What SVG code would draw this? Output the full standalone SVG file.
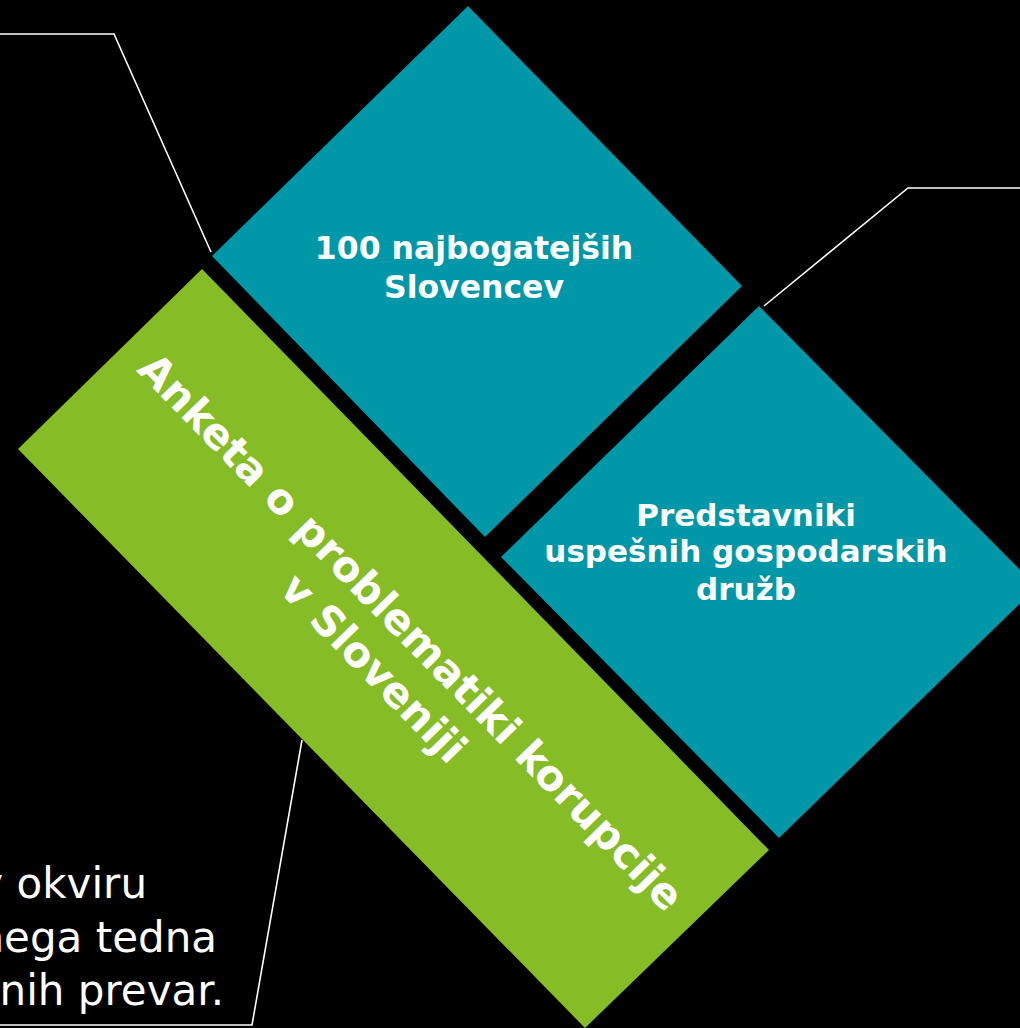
<svg xmlns="http://www.w3.org/2000/svg" width="1020" height="1028" viewBox="0 0 1020 1028">
<style>
.teal{fill:#0097A9}
.green{fill:#86BC25}
.lbl{fill:#fff;font-family:"DejaVu Sans",Verdana,sans-serif;font-weight:bold;text-anchor:middle}
.conn{fill:none;stroke:#fff;stroke-width:1.6}
.body{fill:#fff;font-family:"DejaVu Sans",Verdana,sans-serif;font-size:42px;text-anchor:end}
</style>
<rect x="0" y="0" width="1020" height="1028" fill="#000"/>
<g id="connectors">
<polyline class="conn" points="0,34 114,34 211,252"/>
<polyline class="conn" points="1020,188 908,188 764,306"/>
<polyline class="conn" points="302,740 252,1025 0,1025"/>
</g>
<g id="node-top">
<polygon class="teal" points="468,6 742,286 485,537 212,256"/>
<text class="lbl" font-size="31.5" x="474" y="259">100 najbogatejših</text>
<text class="lbl" font-size="31.5" x="474" y="298">Slovencev</text>
</g>
<g id="node-right">
<polygon class="teal" points="759,306 1037,587 779,838 501,557"/>
<text class="lbl" font-size="31" x="746" y="526">Predstavniki</text>
<text class="lbl" font-size="31" x="746" y="562">uspešnih gospodarskih</text>
<text class="lbl" font-size="31" x="746" y="600">družb</text>
</g>
<g id="node-main">
<polygon class="green" points="202,269 769,850 585,1028 18,449"/>
<g transform="translate(393.5,649) rotate(45.7)">
<text class="lbl" font-size="42" x="0" y="-10">Anketa o problematiki korupcije</text>
<text class="lbl" font-size="42" x="0" y="42">v Sloveniji</text>
</g>
</g>
<g id="note">
<text class="body" x="147" y="898">v okviru</text>
<text class="body" x="217" y="952">nega tedna</text>
<text class="body" x="224" y="1005">nih prevar.</text>
</g>
</svg>
